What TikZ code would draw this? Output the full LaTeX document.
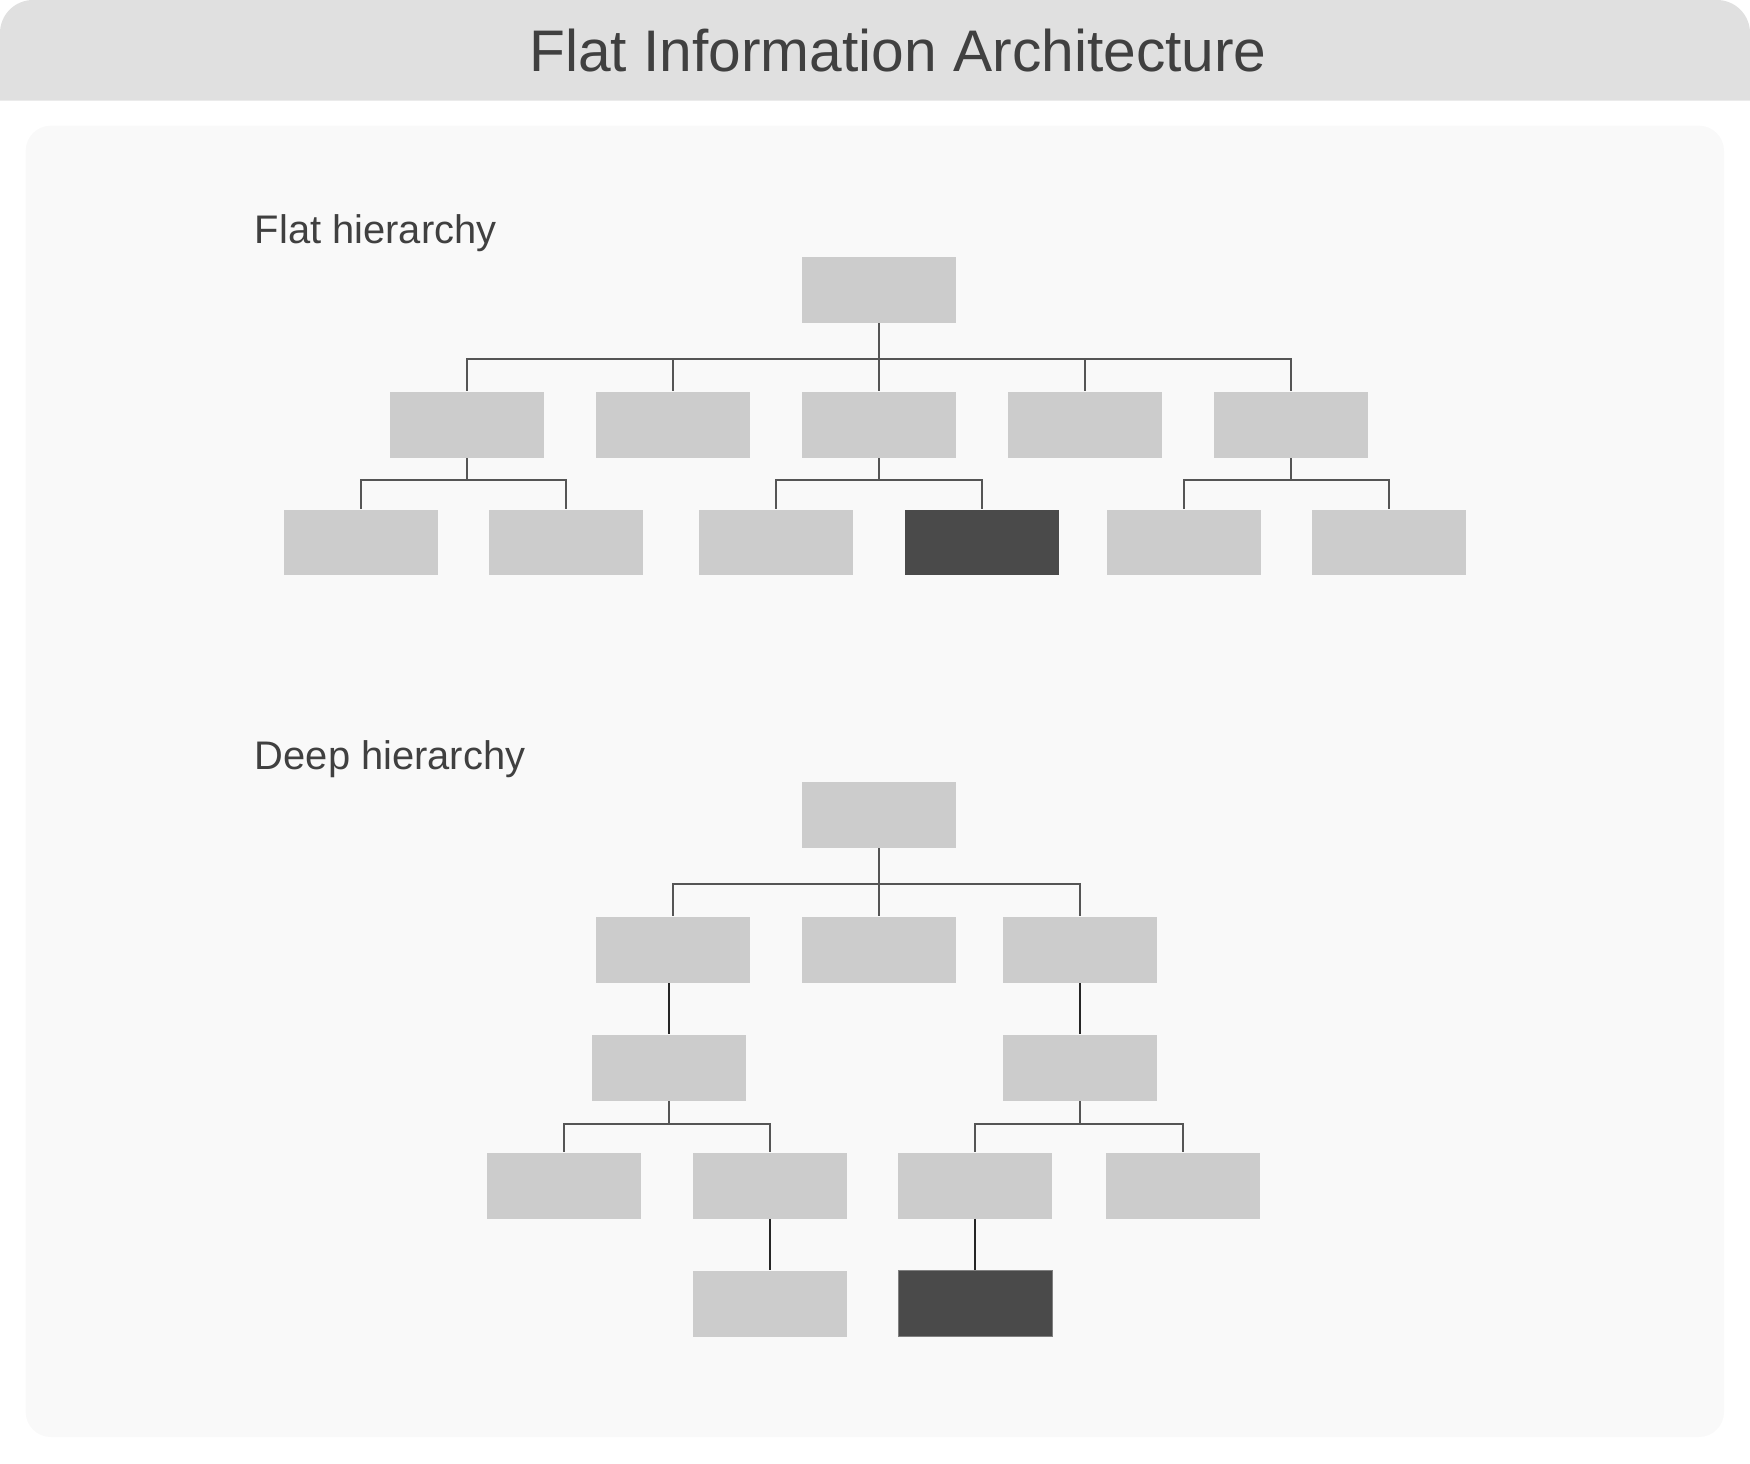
\documentclass[tikz,border=0pt]{standalone}
\usepackage{fontspec}
\setmainfont{Liberation Sans}
\usepackage{tikz}
\usetikzlibrary{calc}

\definecolor{headgray}{HTML}{E0E0E0}
\definecolor{panelgray}{HTML}{F9F9F9}
\definecolor{boxgray}{HTML}{CCCCCC}
\definecolor{hitgray}{HTML}{4A4A4A}
\definecolor{linkgray}{HTML}{555555}
\definecolor{textgray}{HTML}{404040}

\tikzset{
  box/.style={fill=boxgray, minimum width=3.08cm, minimum height=1.32cm, inner sep=0pt},
  hitbox/.style={box, fill=hitgray},
  link/.style={draw=linkgray, line width=0.04cm},
  sololink/.style={draw=black!85, line width=0.04cm},
  heading/.style={anchor=base west, inner sep=0pt, text=textgray, font=\fontsize{22.7}{27}\selectfont},
}

\begin{document}
\begin{tikzpicture}[x=0.02cm,y=-0.02cm]
            \useasboundingbox (0,0) rectangle (1750,1463);
            % header band and panel
            \fill[headgray] (0,100.7) [rounded corners=0.66cm] -- (0,0) -- (1750,0) [sharp corners] -- (1750,100.7) -- cycle;
            \fill[panelgray, rounded corners=0.5cm] (25.7,125.7) rectangle (1724,1437);
            \node[anchor=base, inner sep=0pt, text=textgray, font=\fontsize{33.4}{40}\selectfont] (title) at (898,71.7) {Flat Information Architecture};

            % flat hierarchy
            \node[heading] (flatlabel) at (254.5,243.3) {Flat hierarchy};
            \node[box] (f0) at (879,289.7) {};
            \node[box] (f1) at (467.4,424.7) {};
            \node[box] (f2) at (673,424.7) {};
            \node[box] (f3) at (879,424.7) {};
            \node[box] (f4) at (1084.8,424.7) {};
            \node[box] (f5) at (1290.7,424.7) {};
            \node[box] (f11) at (360.7,542.5) {};
            \node[box] (f12) at (565.8,542.5) {};
            \node[box] (f31) at (776,542.5) {};
            \node[hitbox] (f32) at (982.2,542.5) {};
            \node[box] (f51) at (1183.5,542.5) {};
            \node[box] (f52) at (1389,542.5) {};
            \foreach \c in {f1,f2,f3,f4,f5} \draw[link] (f0.south) -- ++(0,35.6) -| (\c.north);
            \foreach \c in {f11,f12} \draw[link] (f1.south) -- ++(0,22.3) -| (\c.north);
            \foreach \c in {f31,f32} \draw[link] (f3.south) -- ++(0,22.3) -| (\c.north);
            \foreach \c in {f51,f52} \draw[link] (f5.south) -- ++(0,22.3) -| (\c.north);

            % deep hierarchy
            \node[heading] (deeplabel) at (254.5,769.3) {Deep hierarchy};
            \node[box] (d0) at (879,814.7) {};
            \node[box] (d1) at (673,949.7) {};
            \node[box] (d2) at (879,949.7) {};
            \node[box] (d3) at (1080.4,949.7) {};
            \node[box] (d11) at (668.9,1067.7) {};
            \node[box] (d31) at (1080.4,1067.7) {};
            \node[box] (d111) at (563.7,1185.5) {};
            \node[box] (d112) at (769.8,1185.5) {};
            \node[box] (d311) at (975.3,1185.5) {};
            \node[box] (d312) at (1183,1185.5) {};
            \node[box] (d1121) at (769.8,1303.5) {};
            \node[hitbox, draw=gray, line width=0.02cm] (d3111) at (975.3,1303.5) {};
            \foreach \c in {d1,d2,d3} \draw[link] (d0.south) -- ++(0,35.6) -| (\c.north);
            \draw[sololink] (d11.north |- d1.south) -- (d11.north);
            \draw[sololink] (d3.south) -- (d31.north);
            \foreach \c in {d111,d112} \draw[link] (d11.south) -- ++(0,22.6) -| (\c.north);
            \foreach \c in {d311,d312} \draw[link] (d31.south) -- ++(0,22.6) -| (\c.north);
            \draw[sololink] (d112.south) -- (d1121.north);
            \draw[sololink] (d311.south) -- (d3111.north);
        \end{tikzpicture}
\end{document}
